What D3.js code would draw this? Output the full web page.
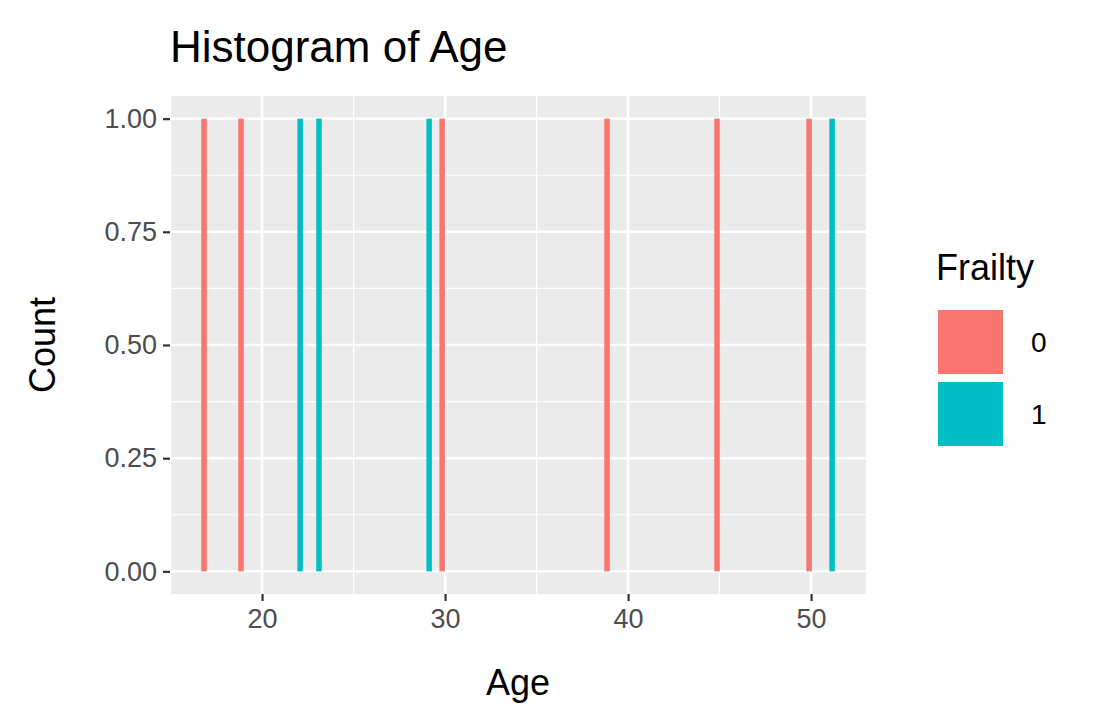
<!DOCTYPE html>
<html><head><meta charset="utf-8">
<script src="https://cdn.jsdelivr.net/npm/d3@7"></script>
<style>body{margin:0;background:#fff}text{font-family:Arial,"Liberation Sans",sans-serif}</style>
</head><body><svg id="c" width="1106" height="727"></svg>
<script>
const ages0 = [16.83, 18.85, 29.84, 38.85, 44.86, 49.89];
const ages1 = [22.08, 23.11, 29.13, 51.15];
const counts0 = [1,1,1,1,1,1];
const counts1 = [1,1,1,1];
const xTicks = [20,30,40,50];
const xMinor = [15,25,35,45];
const yTicks = [0,0.25,0.5,0.75,1];
const yMinor = [0.125,0.375,0.625,0.875];
const colors = {"0":"#F8766D","1":"#00BFC4"};
const binW = 0.3;

const svg = d3.select("#c");
const L=170,R=866,T=96,B=594;
const x = d3.scaleLinear().domain([14.97,53.0]).range([L,R]);
const y = d3.scaleLinear().domain([-0.05,1.05]).range([B,T]);
svg.append("rect").attr("x",L).attr("y",T).attr("width",R-L).attr("height",B-T).attr("fill","#EBEBEB");
const g=svg.append("g");
xMinor.forEach(v=>g.append("line").attr("x1",x(v)).attr("x2",x(v)).attr("y1",T).attr("y2",B).attr("stroke","#fff").attr("stroke-width",1.2));
yMinor.forEach(v=>g.append("line").attr("y1",y(v)).attr("y2",y(v)).attr("x1",L).attr("x2",R).attr("stroke","#fff").attr("stroke-width",1.2));
xTicks.forEach(v=>g.append("line").attr("x1",x(v)).attr("x2",x(v)).attr("y1",T).attr("y2",B).attr("stroke","#fff").attr("stroke-width",2.5));
yTicks.forEach(v=>g.append("line").attr("y1",y(v)).attr("y2",y(v)).attr("x1",L).attr("x2",R).attr("stroke","#fff").attr("stroke-width",2.5));
function bars(a,c,col){a.forEach((v,i)=>svg.append("rect").attr("x",x(v-binW/2)).attr("width",x(v+binW/2)-x(v-binW/2)).attr("y",y(c[i])).attr("height",y(0)-y(c[i])).attr("fill",col));}
bars(ages0,counts0,colors["0"]);bars(ages1,counts1,colors["1"]);
const xa=svg.append("g").attr("transform",`translate(0,${B})`).call(d3.axisBottom(x).tickValues(xTicks).tickSize(7).tickPadding(5));
const ya=svg.append("g").attr("transform",`translate(${L},0)`).call(d3.axisLeft(y).tickValues(yTicks).tickFormat(d3.format(".2f")).tickSize(7).tickPadding(6));
[xa,ya].forEach(a=>{a.select(".domain").remove();a.selectAll("line").attr("stroke","#333").attr("stroke-width",2.2);a.selectAll("text").attr("fill","#4D4D4D").style("font-size","27px").style("font-family","Arial,'Liberation Sans',sans-serif");});
xa.selectAll("text").attr("dy","0.8em");
svg.append("text").attr("x",(L+R)/2).attr("y",695).attr("text-anchor","middle").style("font-size","36px").text("Age");
svg.append("text").attr("transform",`translate(55,${(T+B)/2}) rotate(-90)`).attr("text-anchor","middle").style("font-size","36px").text("Count");
svg.append("text").attr("x",170).attr("y",62).style("font-size","44px").text("Histogram of Age");
svg.append("text").attr("x",936).attr("y",280).style("font-size","36px").text("Frailty");
[["0",309],["1",381]].forEach(([k,yy])=>{
 svg.append("rect").attr("x",937).attr("y",yy).attr("width",67).attr("height",66).attr("fill",colors[k]).attr("stroke","#fff").attr("stroke-width",2);
 svg.append("text").attr("x",1031).attr("y",yy+43).style("font-size","28px").text(k);
});
</script></body></html>
